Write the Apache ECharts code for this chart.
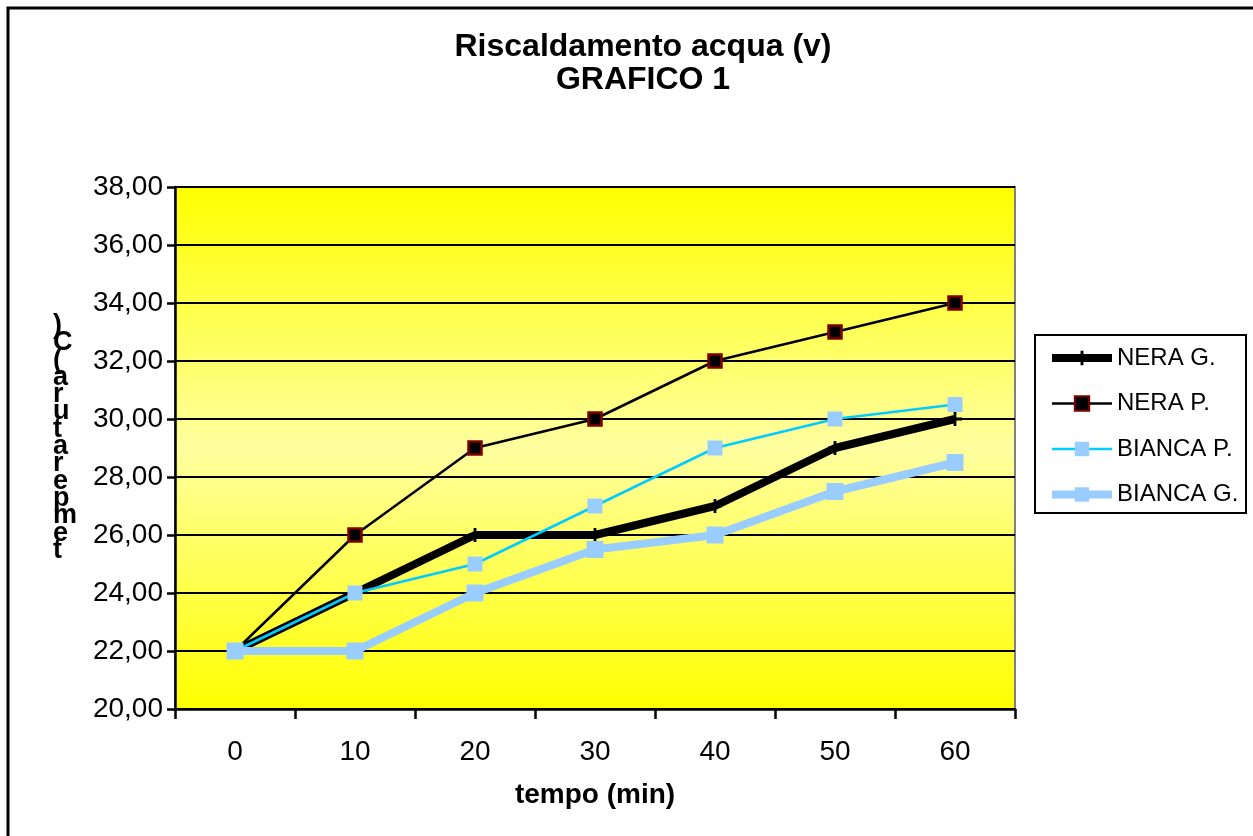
<!DOCTYPE html>
<html>
<head>
<meta charset="utf-8">
<script src="https://cdn.jsdelivr.net/npm/echarts@6/dist/echarts.min.js"></script>
<style>html,body{margin:0;padding:0;background:#fff}#c{width:1253px;height:836px}</style>
</head>
<body>
<div id="c"></div>
<script>
var categories = ['0', '10', '20', '30', '40', '50', '60'];
var neraG = [22, 24, 26, 26, 27, 29, 30];
var neraP = [22, 26, 29, 30, 32, 33, 34];
var biancaP = [22, 24, 25, 27, 29, 30, 30.5];
var biancaG = [22, 22, 24, 25.5, 26, 27.5, 28.5];
var yAxisTitle = 'temperatura (C)';

var font = '"Liberation Sans", Arial, sans-serif';
var stacked = yAxisTitle.replace(/ /g, '').split('').reverse().join('\n');
var plusPath = 'path://M4,0 L6,0 L6,4 L10,4 L10,6 L6,6 L6,10 L4,10 L4,6 L0,6 L0,4 L4,4 Z';

var chart = echarts.init(document.getElementById('c'));
chart.setOption({
  animation: false,
  backgroundColor: '#fff',
  title: {
    text: 'Riscaldamento acqua (v)\nGRAFICO 1',
    left: 638, top: 26, textAlign: 'center',
    textStyle: {fontFamily: font, fontSize: 32, fontWeight: 'bold', color: '#000', lineHeight: 33}
  },
  graphic: [
    {type: 'rect', shape: {x: 8, y: 8, width: 1260, height: 840}, style: {fill: 'none', stroke: '#000', lineWidth: 3}, z: 0},
    {type: 'rect', shape: {x: 1035, y: 335, width: 211, height: 178}, style: {fill: '#fff', stroke: '#000', lineWidth: 2}, z: 0},
    {type: 'text', left: 53, top: 312, style: {text: stacked, font: 'bold 27px ' + font, lineHeight: 17.3, fill: '#000', align: 'center'}, z: 10}
  ],
  legend: {
    orient: 'vertical', left: 1043, top: 341, itemGap: 21.5, itemWidth: 60, itemHeight: 18,
    textStyle: {fontFamily: font, fontSize: 24, color: '#000'},
    data: [
      {name: 'NERA G.', lineStyle: {width: 8}},
      {name: 'NERA P.', lineStyle: {width: 2.5}},
      {name: 'BIANCA P.', lineStyle: {width: 2.5}},
      {name: 'BIANCA G.', lineStyle: {width: 8}}
    ]
  },
  grid: {
    left: 175, top: 187, width: 840, height: 522, show: true,
    borderColor: '#808080', borderWidth: 2,
    backgroundColor: new echarts.graphic.LinearGradient(0, 0, 0, 1, [
      {offset: 0, color: '#ffff00'}, {offset: 0.5, color: '#ffffa0'}, {offset: 1, color: '#ffff00'}
    ])
  },
  xAxis: {
    type: 'category', data: categories, boundaryGap: true,
    name: 'tempo (min)', nameLocation: 'middle', nameGap: 72,
    nameTextStyle: {fontFamily: font, fontSize: 28, fontWeight: 'bold', color: '#000'},
    axisLine: {lineStyle: {color: '#000', width: 2.5}},
    axisTick: {show: true, length: 10, lineStyle: {color: '#000', width: 2.5}},
    axisLabel: {fontFamily: font, fontSize: 28, color: '#000', margin: 29}
  },
  yAxis: {
    type: 'value', min: 20, max: 38, interval: 2,
    axisLine: {show: true, lineStyle: {color: '#000', width: 2.5}},
    axisTick: {show: true, length: 8, lineStyle: {color: '#000', width: 2.5}},
    axisLabel: {fontFamily: font, fontSize: 28, color: '#000', margin: 12,
      formatter: function (v) { return v.toFixed(2).replace('.', ','); }},
    splitLine: {show: true, lineStyle: {color: '#000', width: 2}}
  },
  series: [
    {name: 'NERA G.', type: 'line', data: neraG, symbol: plusPath, symbolSize: 14,
      lineStyle: {color: '#000', width: 8}, itemStyle: {color: '#000'}},
    {name: 'NERA P.', type: 'line', data: neraP, symbol: 'rect', symbolSize: 13,
      lineStyle: {color: '#000', width: 2.5}, itemStyle: {color: '#000', borderColor: '#800000', borderWidth: 2.5}},
    {name: 'BIANCA P.', type: 'line', data: biancaP, symbol: 'rect', symbolSize: 15,
      lineStyle: {color: '#00ccff', width: 2.5}, itemStyle: {color: '#99ccff'}},
    {name: 'BIANCA G.', type: 'line', data: biancaG, symbol: 'rect', symbolSize: 17,
      lineStyle: {color: '#99ccff', width: 8}, itemStyle: {color: '#99ccff'}}
  ]
});
</script>
</body>
</html>
